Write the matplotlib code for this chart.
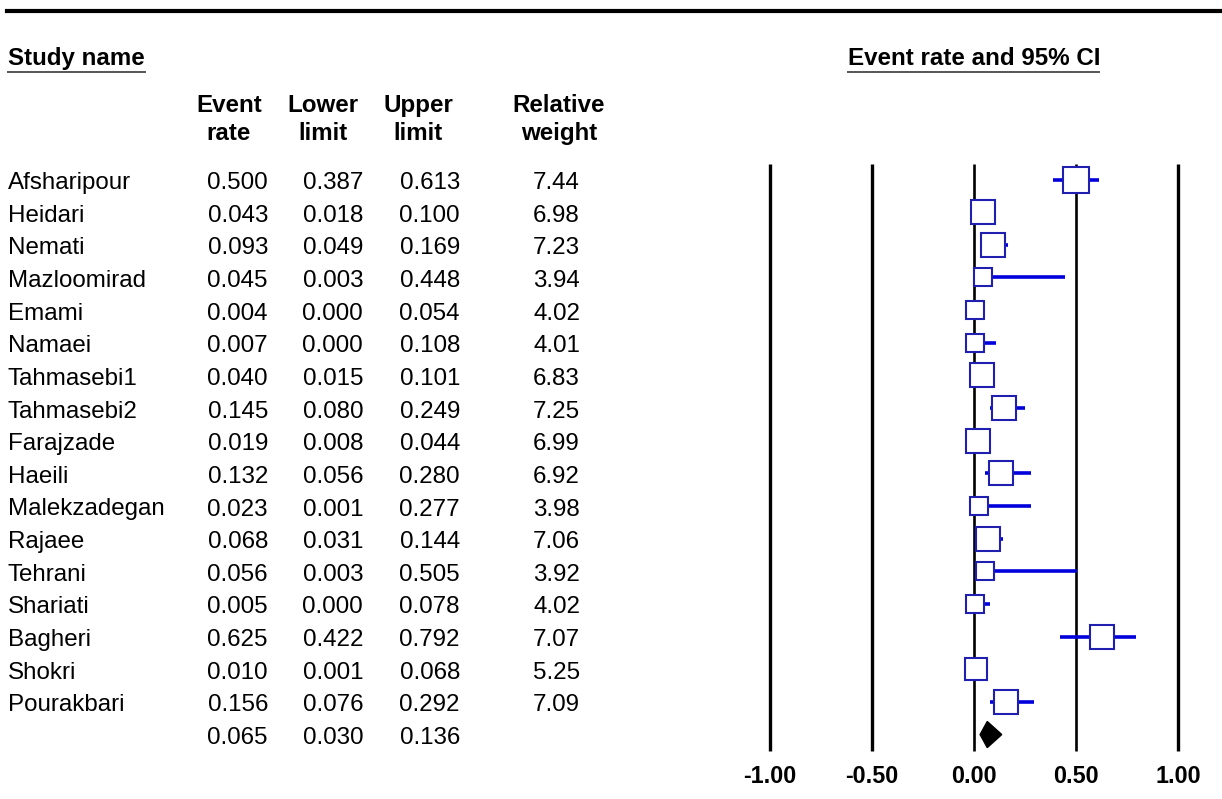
import numpy as np
import matplotlib
matplotlib.use('Agg')
import matplotlib.pyplot as plt
from matplotlib import transforms
from matplotlib.lines import Line2D

plt.rcParams['font.family'] = ['Liberation Sans', 'DejaVu Sans']

studies = ['Afsharipour', 'Heidari', 'Nemati', 'Mazloomirad', 'Emami', 'Namaei',
           'Tahmasebi1', 'Tahmasebi2', 'Farajzade', 'Haeili', 'Malekzadegan',
           'Rajaee', 'Tehrani', 'Shariati', 'Bagheri', 'Shokri', 'Pourakbari']
event_rate = [0.500, 0.043, 0.093, 0.045, 0.004, 0.007, 0.040, 0.145, 0.019,
              0.132, 0.023, 0.068, 0.056, 0.005, 0.625, 0.010, 0.156]
lower_limit = [0.387, 0.018, 0.049, 0.003, 0.000, 0.000, 0.015, 0.080, 0.008,
               0.056, 0.001, 0.031, 0.003, 0.000, 0.422, 0.001, 0.076]
upper_limit = [0.613, 0.100, 0.169, 0.448, 0.054, 0.108, 0.101, 0.249, 0.044,
               0.280, 0.277, 0.144, 0.505, 0.078, 0.792, 0.068, 0.292]
rel_weight = [7.44, 6.98, 7.23, 3.94, 4.02, 4.01, 6.83, 7.25, 6.99, 6.92,
              3.98, 7.06, 3.92, 4.02, 7.07, 5.25, 7.09]
summary_rate = 0.065
summary_lower = 0.030
summary_upper = 0.136
x_ticks = [-1.0, -0.5, 0.0, 0.5, 1.0]

W, H = 1222, 799
fig = plt.figure(figsize=(W / 100, H / 100), dpi=100)

# forest plot axes, placed in pixel terms
row0, pitch = 179.5, 32.65
top_px, bot_px = 160, 760
left_px, right_px = 729.2, 1218.8
ax = fig.add_axes([left_px / W, 1 - bot_px / H, (right_px - left_px) / W, (bot_px - top_px) / H])
ax.set_xlim(-1.2, 1.2)
ax.set_ylim((bot_px - row0) / pitch, (top_px - row0) / pitch)
for s in ax.spines.values():
    s.set_visible(False)
ax.set_yticks([])
ax.set_xticks(x_ticks)
ax.set_xticklabels([f'{t:.2f}' for t in x_ticks], fontsize=16.8, fontweight='bold')
ax.tick_params(axis='x', length=0, pad=3.4)

ymin, ymax = (164 - row0) / pitch, (751 - row0) / pitch
for t in x_ticks:
    lw = 1.9 if t in (0.0, 0.5) else 2.4
    ax.vlines(t, ymin, ymax, color='black', lw=lw, zorder=1)

n = len(studies)
ypos = np.arange(n)
ax.hlines(ypos, lower_limit, upper_limit, color='#0000dd', lw=2.6, zorder=2)
for i in range(n):
    ms = 9.2 * np.sqrt(rel_weight[i]) * 0.72
    ax.plot(event_rate[i], ypos[i], marker='s', ms=ms, mfc='white',
            mec='#2020b0', mew=1.5, zorder=3)

# pooled estimate diamond
ys = n
ax.fill([summary_lower, summary_rate, summary_upper, summary_rate],
        [ys, ys - 0.4, ys, ys + 0.4], color='black', zorder=3)

# table text
tr = transforms.blended_transform_factory(fig.transFigure, ax.transData)
fs = 17.4
base = 9.5 / pitch
cols = [(268, event_rate), (363, lower_limit), (460, upper_limit)]
for i in range(n):
    ax.text(8 / W, i + base, studies[i], transform=tr, fontsize=fs, va='baseline', ha='left')
    for xr, vals in cols:
        ax.text(xr / W, i + base, f'{vals[i]:.3f}', transform=tr, fontsize=fs,
                va='baseline', ha='right')
    ax.text(580 / W, i + base, f'{rel_weight[i]:.2f}', transform=tr, fontsize=fs,
            va='baseline', ha='right')
for xr, v in zip([268, 363, 460], [summary_rate, summary_lower, summary_upper]):
    ax.text(xr / W, n + base, f'{v:.3f}', transform=tr, fontsize=fs,
            va='baseline', ha='right')

# headers
def fy(px):
    return 1 - px / H

fig.text(8 / W, fy(65), 'Study name', fontsize=fs, fontweight='bold', va='baseline')
fig.text(974 / W, fy(65), 'Event rate and 95% CI', fontsize=fs, fontweight='bold',
         va='baseline', ha='center')
for xc, l1, l2 in [(229, 'Event', 'rate'), (322.5, 'Lower', 'limit'),
                   (418, 'Upper', 'limit'), (559, 'Relative', 'weight')]:
    fig.text(xc / W, fy(112), l1, fontsize=fs, fontweight='bold', va='baseline', ha='center')
    fig.text(xc / W, fy(140), l2, fontsize=fs, fontweight='bold', va='baseline', ha='center')

fig.add_artist(Line2D([8 / W, 145 / W], [fy(71.5), fy(71.5)], color='#555555', lw=1.4))
fig.add_artist(Line2D([848 / W, 1099 / W], [fy(71.5), fy(71.5)], color='#555555', lw=1.4))
fig.add_artist(Line2D([7 / W, 1.0], [fy(10.5), fy(10.5)], color='black', lw=3))

fig.savefig('out.png', dpi=100)
